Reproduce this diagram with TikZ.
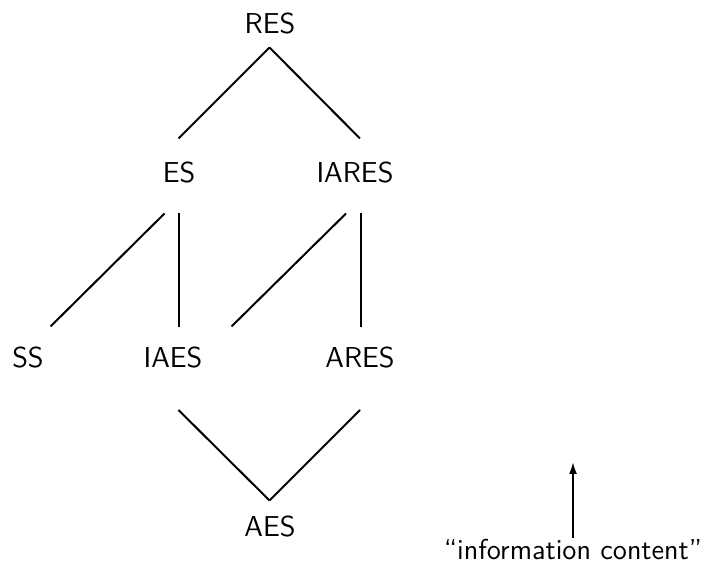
\documentclass[tikz,border=0pt]{standalone}
\usepackage{tikz}
\usetikzlibrary{calc,arrows.meta}

\begin{document}
\begin{tikzpicture}[x=0.5pt,y=-0.5pt,line width=1pt,
    every node/.style={font=\sffamily\fontsize{14.4}{17}\selectfont}]

      \useasboundingbox (0,0) rectangle (708,571);

      \node (RES) at (270,24){RES};
      \node (ES) at (179,173){ES};
      \node (IARES) at (355,173){IARES};
      \node (SS) at (28,358){SS};
      \node (IAES) at (173,358){IAES};
      \node (ARES) at (360,358){ARES};
      \node (AES) at (270,527){AES};
      \node (info) at (573,550){``information content''};
      \coordinate (up) at (573,462);

      \draw ($(RES)+(-0.5,23.5)$) -- ($(ES)+(-0.5,-34.5)$);
      \draw ($(RES)+(-0.5,23.5)$) -- ($(IARES)+(5,-34.5)$);
      \draw ($(ES)+(-14.5,40.5)$) -- ($(SS)+(22.5,-31.5)$);
      \draw ($(ES)+(0,40.5)$) -- ($(IAES)+(6,-31)$);
      \draw ($(IARES)+(-9,40.5)$) -- ($(IAES)+(58.5,-31.5)$);
      \draw ($(IARES)+(6,40.5)$) -- ($(ARES)+(1,-31)$);
      \draw ($(IAES)+(5.5,52)$) -- ($(AES)+(-0.5,-26.5)$);
      \draw ($(ARES)+(0,52)$) -- ($(AES)+(-0.5,-26.5)$);

      \draw[-{Latex[length=6pt,width=4pt]}] ($(info)+(0,-12)$) -- (up);

    \end{tikzpicture}
\end{document}
